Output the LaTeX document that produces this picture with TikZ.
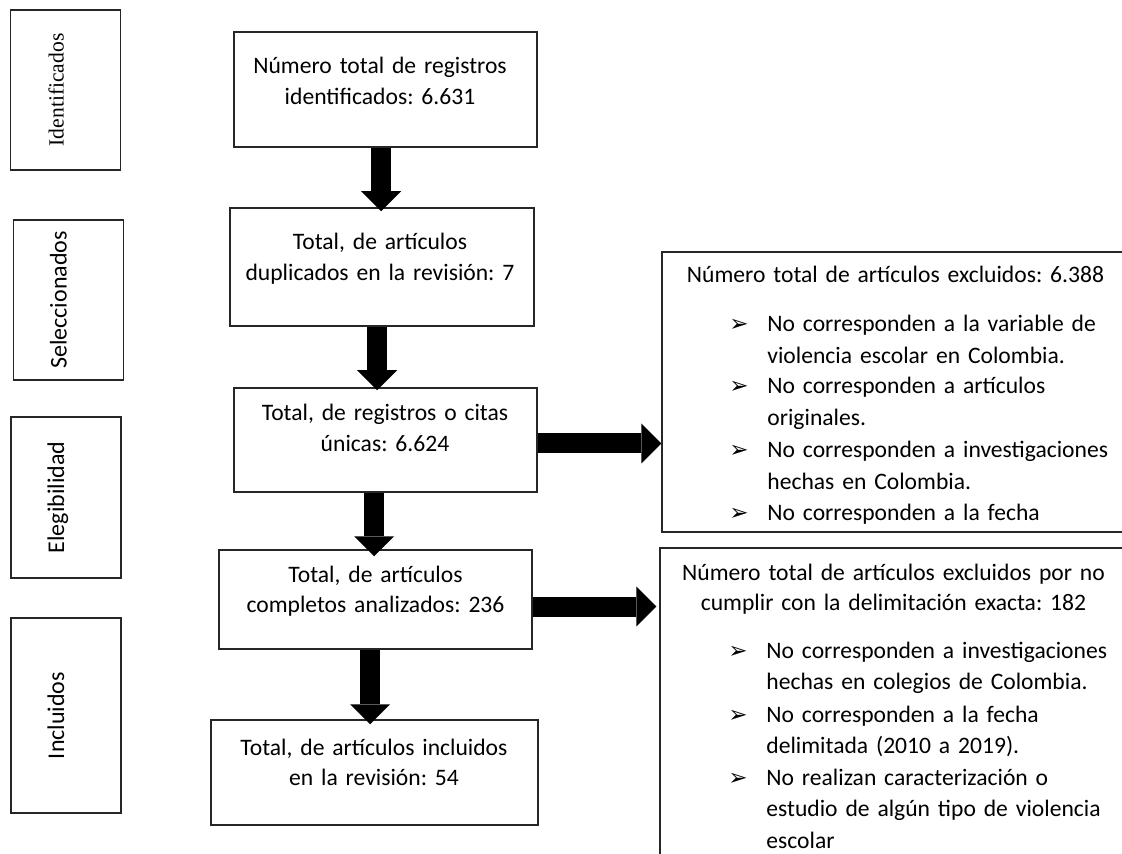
\documentclass[tikz,border=0pt]{standalone}
\usepackage{fontspec}
\setmainfont{Carlito}
\newfontfamily\tiposerif{Liberation Serif}
\newfontfamily\tipoflecha{DejaVu Sans}
\frenchspacing
\usetikzlibrary{positioning, arrows.meta}
\tikzset{
	caja/.style = {draw=black!85, line width=0.75pt, inner sep=0pt},
	fase/.style = {caja, rotate=90, minimum width=#1, minimum height=55pt, text height=9pt, text depth=11pt, font=\fontsize{12}{14}\selectfont},
	texto/.style = {inner sep=0pt, anchor=base, align=center, text width=170pt, font=\fontsize{11.8}{15.2}\selectfont},
	lista/.style = {inner sep=0pt, anchor=base west, align=left, text width=200pt, font=\fontsize{11.8}{15.75}\selectfont},
	flecha/.style = {inner sep=0pt, anchor=base west, font=\tipoflecha\bfseries\fontsize{11.5}{11.5}\selectfont},
	bloque/.style = {line width=10pt, -{Triangle[width=20pt, length=10pt, line width=0pt]}},
}

\begin{document}
\begin{tikzpicture}[x=0.5pt, y=-0.5pt]
	\path[use as bounding box, clip] (0,0) rectangle (1122,854);
	% fases
	\node[fase=80pt, font=\tiposerif\fontsize{10.8}{13}\selectfont] (identificados) at (65.5,90) {Identificados};
	\node[fase=80pt] (seleccionados) at (68.5,300) {Seleccionados};
	\node[fase=80.5pt] (elegibilidad) at (66,497.5) {Elegibilidad};
	\node[fase=97.5pt] (incluidos) at (66,715.5) {Incluidos};
	% cajas
	\node[caja, minimum width=151.5pt, minimum height=57.5pt] (registros) at (385.5,89.5) {};
	\node[caja, minimum width=152pt, minimum height=59pt] (duplicados) at (382,267) {};
	\node[caja, minimum width=151.5pt, minimum height=52pt] (unicas) at (385.5,440) {};
	\node[caja, minimum width=156.5pt, minimum height=49.5pt] (completos) at (375.5,599.5) {};
	\node[caja, minimum width=163.5pt, minimum height=52.5pt] (incluidas) at (374.5,772.5) {};
	\node[caja, minimum width=239pt, minimum height=140pt] (excluidos) at (901,392) {};
	\node[caja, minimum width=240pt, minimum height=166pt] (delimitacion) at (900,714) {};
	% textos
	\node[texto] (t-registros) at (380,74) {Número total de registros\\identificados: 6.631};
	\node[texto] (t-duplicados) at (380,250) {Total, de artículos\\duplicados en la revisión: 7};
	\node[texto] (t-unicas) at (385,421) {Total, de registros o citas\\únicas: 6.624};
	\node[texto] (t-completos) at (375.5,582) {Total, de artículos\\completos analizados: 236};
	\node[texto] (t-incluidas) at (374,755) {Total, de artículos incluidos\\en la revisión: 54};
	\node[texto, text width=230pt] (t-excluidos) at (895.5,283) {Número total de artículos excluidos: 6.388};
	\node[flecha] (f1) at (729,332) {➢};
	\node[lista] (l1) at (767,332) {No corresponden a la variable de\\violencia escolar en Colombia.};
	\node[flecha] (f2) at (729,394) {➢};
	\node[lista] (l2) at (767,394) {No corresponden a artículos\\originales.};
	\node[flecha] (f3) at (729,458) {➢};
	\node[lista] (l3) at (767,458) {No corresponden a investigaciones\\hechas en Colombia.};
	\node[flecha] (f4) at (729,520) {➢};
	\node[lista] (l4) at (767,520) {No corresponden a la fecha};
	\node[texto, text width=230pt, font=\fontsize{11.8}{15}\selectfont] (t-delimitacion) at (893.5,580) {Número total de artículos excluidos por no\\cumplir con la delimitación exacta: 182};
	\node[flecha] (f5) at (728,658) {➢};
	\node[lista] (l5) at (766,658) {No corresponden a investigaciones\\hechas en colegios de Colombia.};
	\node[flecha] (f6) at (728,722) {➢};
	\node[lista] (l6) at (766,722) {No corresponden a la fecha\\delimitada (2010 a 2019).};
	\node[flecha] (f7) at (728,785) {➢};
	\node[lista] (l7) at (766,785) {No realizan caracterización o\\estudio de algún tipo de violencia\\escolar};
	% flechas
	\draw[bloque] ([xshift=-2.25pt]registros.south) -- ([xshift=-0.5pt, yshift=-2pt]duplicados.north);
	\draw[bloque] ([xshift=-2.5pt]duplicados.south) -- ([xshift=-4.25pt, yshift=-1.5pt]unicas.north);
	\draw[bloque] ([xshift=-5.75pt]unicas.south) -- ([xshift=-0.75pt, yshift=-3.5pt]completos.north);
	\draw[bloque] ([xshift=-2.75pt]completos.south) -- ([xshift=-2.25pt, yshift=-2.5pt]incluidas.north);
	\draw[bloque] ([yshift=-1.75pt]unicas.east) -- ([yshift=-25.75pt]excluidos.west);
	\draw[bloque] ([yshift=-3.5pt]completos.east) -- ([xshift=-1.5pt, yshift=53.75pt]delimitacion.west);
\end{tikzpicture}
\end{document}
